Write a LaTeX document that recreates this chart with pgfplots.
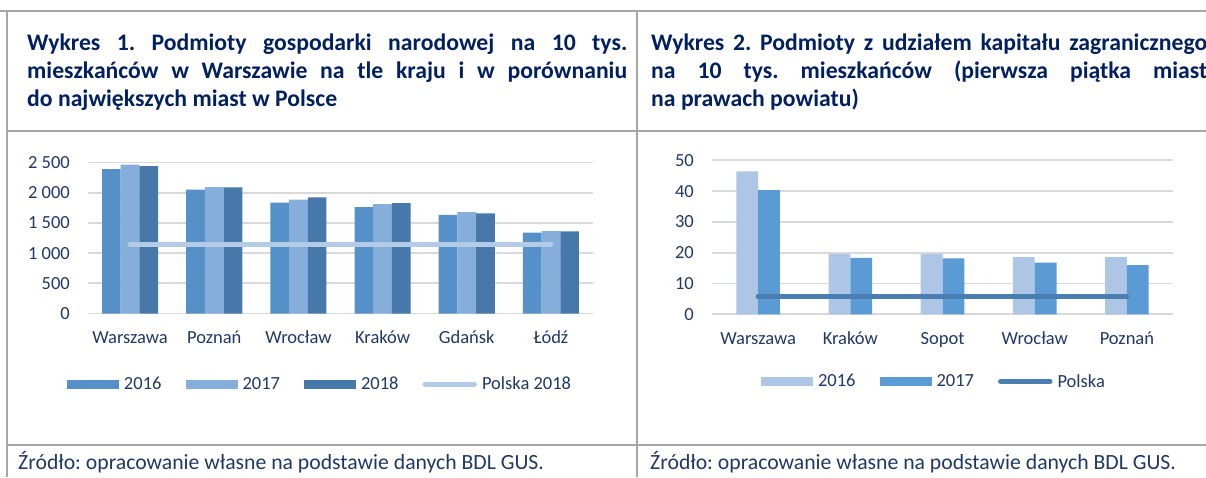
\documentclass[border=0pt]{standalone}
\usepackage{pgfplots}
\pgfplotsset{compat=1.18}
\usepackage{fontspec}
\setmainfont{Carlito}
\frenchspacing

\definecolor{navy}{HTML}{1F3864}
\definecolor{titlenavy}{HTML}{002060}
\definecolor{framegray}{HTML}{A6A6A6}
\definecolor{gridgray}{HTML}{D9D9D9}
\definecolor{a16}{HTML}{5590C8}
\definecolor{a17}{HTML}{86AEDB}
\definecolor{a18}{HTML}{4679A9}
\definecolor{apl}{HTML}{B4CBE8}
\definecolor{b16}{HTML}{ADC6E6}
\definecolor{b17}{HTML}{5B9BD5}
\definecolor{bpl}{HTML}{4A7EB0}

\newcommand{\txt}{\fontsize{18.5}{22}\selectfont}

\pgfplotsset{
  panel/.style={
    scale only axis,
    anchor=south west,
    axis line style={draw=none},
    major tick length=0pt,
    ymajorgrids,
    major grid style={gridgray, line width=1.8pt},
    tick label style={font=\txt, text=navy},
    /pgf/number format/assume math mode=true,
    yticklabel style={anchor=east, inner sep=0pt, xshift=-18pt},
    xticklabel style={anchor=base, inner sep=0pt, yshift=-30pt},
    clip=false,
    legend columns=-1,
    legend cell align=left,
    legend style={draw=none, fill=none, inner sep=0pt, outer sep=0pt,
      font=\txt, text=navy, anchor=west, nodes={inner sep=0pt},
      /tikz/every odd column/.append style={column sep=5pt},
      /tikz/every even column/.append style={column sep=24pt}},
  },
  barleg/.style={legend image code/.code={\fill[#1] (0pt,-4.5pt) rectangle (52pt,4.5pt);}},
  lineleg/.style={legend image code/.code={%
    \draw[#1, line width=5pt, line cap=round] (2.5pt,0pt) -- (52pt,0pt);}},
}

\begin{document}
\begin{tikzpicture}
\useasboundingbox (0,0) rectangle (1206pt,-477pt);
\clip (0,0) rectangle (1206pt,-477pt);

% frame of the two panels
\begin{scope}[x=1pt, y=-1pt, framegray, line width=2pt]
  \draw (0,11) -- (1206,11);
  \draw (6.5,11) -- (6.5,477);
  \draw (636.5,11) -- (636.5,477);
  \draw (6.5,131) -- (1206,131);
  \draw (6.5,445) -- (1206,445);
\end{scope}

% titles
\node[anchor=base west, text width=600pt, align=justify, inner sep=0pt,
  font=\fontsize{23.7}{28.3}\selectfont\bfseries, text=titlenavy]
  at (27pt,-50pt)
  {Wykres 1. Podmioty gospodarki narodowej na 10 tys.\linebreak
   mieszkańców w Warszawie na tle kraju i w porównaniu\linebreak
   do największych miast w Polsce};
\node[anchor=base west, text width=556pt, align=justify, inner sep=0pt,
  font=\fontsize{23.7}{28.3}\selectfont\bfseries, text=titlenavy]
  at (651pt,-50pt)
  {Wykres 2. Podmioty z udziałem kapitału zagranicznego\linebreak
   na 10 tys. mieszkańców (pierwsza piątka miast\linebreak
   na prawach powiatu)};

% sources
\node[anchor=base west, inner sep=0pt, font=\fontsize{21.7}{26}\selectfont, text=navy] at (18pt,-469.5pt)
  {Źródło: opracowanie własne na podstawie danych BDL GUS.};
\node[anchor=base west, inner sep=0pt, font=\fontsize{21.7}{26}\selectfont, text=navy] at (650pt,-469.5pt)
  {Źródło: opracowanie własne na podstawie danych BDL GUS.};

% chart 1
\begin{axis}[panel, at={(88pt,-313.5pt)}, width=505pt, height=151pt,
  xmin=-0.5, xmax=5.5, ymin=0, ymax=2500,
  xtick={0,...,5},
  xticklabels={Warszawa,Poznań,Wrocław,Kraków,Gdańsk,Łódź},
  ytick={0,500,...,2500},
  yticklabels={0,500,1 000,1 500,2 000,2 500},
  legend style={at={(-0.0416,-0.467)}}]
\addplot[ybar, bar width=18.7pt, bar shift=-18.7pt, fill=a16, draw=none, barleg=a16]
  coordinates {(0,2392) (1,2050) (2,1835) (3,1763) (4,1631) (5,1338)};
\addplot[ybar, bar width=18.7pt, bar shift=0pt, fill=a17, draw=none, barleg=a17]
  coordinates {(0,2464) (1,2094) (2,1884) (3,1813) (4,1680) (5,1366)};
\addplot[ybar, bar width=18.7pt, bar shift=18.7pt, fill=a18, draw=none, barleg=a18]
  coordinates {(0,2442) (1,2089) (2,1924) (3,1829) (4,1659) (5,1361)};
\addplot[apl, line width=5pt, line cap=round, sharp plot, mark=none, lineleg=apl]
  coordinates {(0,1145) (1,1145) (2,1145) (3,1145) (4,1145) (5,1145)};
\legend{2016,2017,2018,Polska 2018}
\end{axis}

% chart 2
\begin{axis}[panel, at={(712pt,-314.3pt)}, width=461pt, height=154pt,
  xmin=-0.5, xmax=4.5, ymin=0, ymax=50,
  xtick={0,...,4},
  xticklabels={Warszawa,Kraków,Sopot,Wrocław,Poznań},
  ytick={0,10,...,50},
  legend style={at={(0.1063,-0.436)}}]
\addplot[ybar, bar width=21.8pt, bar shift=-10.9pt, fill=b16, draw=none, barleg=b16]
  coordinates {(0,46.4) (1,19.6) (2,19.6) (3,18.6) (4,18.6)};
\addplot[ybar, bar width=21.8pt, bar shift=10.9pt, fill=b17, draw=none, barleg=b17]
  coordinates {(0,40.3) (1,18.3) (2,18.2) (3,16.8) (4,16.0)};
\addplot[bpl, line width=5pt, line cap=round, sharp plot, mark=none, lineleg=bpl]
  coordinates {(0,5.7) (1,5.7) (2,5.7) (3,5.7) (4,5.7)};
\legend{2016,2017,Polska}
\end{axis}
\end{tikzpicture}
\end{document}
